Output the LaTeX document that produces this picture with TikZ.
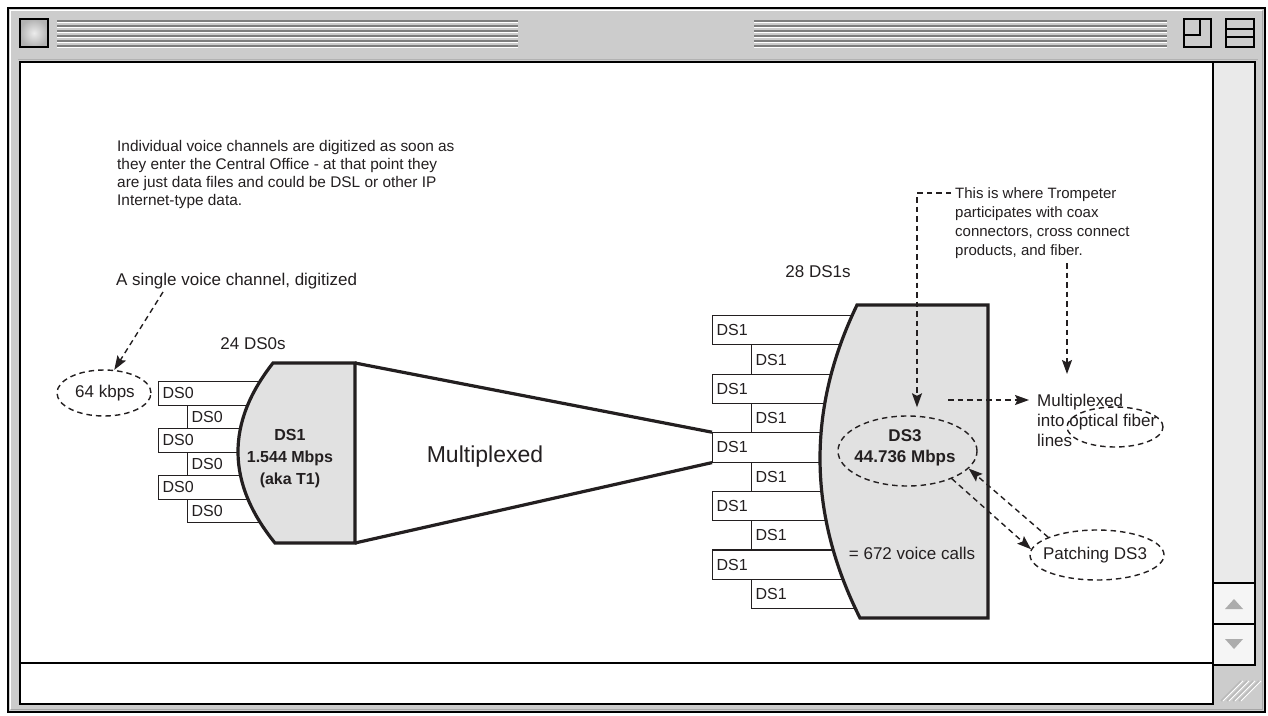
\documentclass[tikz,border=0pt]{standalone}
\usepackage{fontspec}
\setmainfont{Liberation Sans}
\usetikzlibrary{arrows.meta,shapes.geometric}
\definecolor{wframe}{RGB}{204,204,204}
\definecolor{shapefill}{RGB}{225,225,225}
\definecolor{stripe}{RGB}{125,125,125}
\definecolor{track}{RGB}{234,234,234}
\definecolor{ink}{RGB}{35,31,32}
\begin{document}
\begin{tikzpicture}[x=1pt,y=-1pt,
  ann/.style={font=\fontsize{15.4}{18}\selectfont, inner sep=0pt, align=left, text=ink},
  lbl/.style={font=\fontsize{17}{20}\selectfont, inner sep=0pt, text=ink},
  dsb/.style={draw=ink, line width=1.1pt, fill=white, inner xsep=4pt, inner ysep=0pt, align=left, font=\fontsize{16}{16}\selectfont, text=ink},
  bigshape/.style={draw=ink, line width=3.2pt, fill=shapefill},
  dline/.style={draw=ink, dash pattern=on 5.5pt off 4pt, line width=1.4pt},
  arr/.style={-{Stealth[length=14pt,width=10pt,inset=2.5pt,fill=ink]}},
  dell/.style={ellipse, dline, inner sep=0pt},
  chrome/.style={draw=black, line width=1.5pt},
]
\useasboundingbox (0,0) rectangle (1268,715);
\fill[white] (0,0) rectangle (1268,715);
% ---------------- window frame ----------------
\draw[line width=2pt, fill=wframe] (8,8) rectangle (1265,712);
\draw[white, line width=1.5pt] (10.5,709) -- (10.5,10.5) -- (1262,10.5);
\draw[gray!70, line width=1.5pt] (1262.5,11) -- (1262.5,709.5) -- (11,709.5);
\foreach \y in {21,26,31,36,41,46} {
  \draw[stripe, line width=1.4pt] (57,\y) -- (518,\y);
  \draw[white, line width=1pt] (57,\y+1.8) -- (518,\y+1.8);
  \draw[stripe, line width=1.4pt] (754,\y) -- (1167,\y);
  \draw[white, line width=1pt] (754,\y+1.8) -- (1167,\y+1.8);
}
\shade[inner color=gray!15, outer color=gray!60] (20,19) rectangle (48,47);
\draw[line width=2pt] (20,19) rectangle (48,47);
\draw[line width=2pt, fill=wframe] (1184,19) rectangle (1211,47);
\draw[line width=2pt] (1200,19) -- (1200,35) -- (1184,35);
\draw[line width=2pt, fill=wframe] (1226,19) rectangle (1254,47);
\draw[line width=2pt] (1226,29) -- (1254,29);
\draw[line width=2pt] (1226,37) -- (1254,37);
\draw[gray!60, line width=1pt] (18,59.5) -- (1258,59.5);
\draw[chrome, fill=white] (20,62) rectangle (1213,663);
\draw[chrome, fill=white] (20,663) rectangle (1213,704);
\draw[chrome, fill=track] (1213,62) rectangle (1255,665);
\draw[chrome, fill=gray!8] (1213,583) rectangle (1255,624);
\draw[chrome, fill=gray!8] (1213,624) rectangle (1255,665);
\fill[gray!65] (1225,609) -- (1243,609) -- (1234,599) -- cycle;
\fill[gray!65] (1225,639) -- (1243,639) -- (1234,649) -- cycle;
\foreach \i in {0,1,2,3} {
  \draw[gray!55, line width=1.5pt] (1221+\i*6,701) -- ++(20,-20);
  \draw[white, line width=1pt] (1223+\i*6,701) -- ++(20,-20);
}
% ---------------- DS0 boxes ----------------
\foreach \i in {1,3,5}
  \node[dsb, text width=134pt, minimum height=23.5pt, anchor=north west] (s\i) at (158,{381+(\i-1)*23.5}) {DS0};
\foreach \i in {2,4,6}
  \node[dsb, text width=105pt, minimum height=23.5pt, anchor=north west] (s\i) at (187,{381+(\i-1)*23.5}) {DS0};
% ---------------- DS1 boxes ----------------
\foreach \i in {1,3,5,7,9}
  \node[dsb, text width=180pt, minimum height=29.3pt, anchor=north west] (b\i) at (712,{315+(\i-1)*29.3}) {DS1};
\foreach \i in {2,4,6,8,10}
  \node[dsb, text width=141pt, minimum height=29.3pt, anchor=north west] (b\i) at (751,{315+(\i-1)*29.3}) {DS1};
% ---------------- multiplexer shapes ----------------
\draw[bigshape] (273,363) -- (355,363) -- (355,543) -- (275,543)
  .. controls (226.3,483) and (225.7,423) .. (273,363) -- cycle;
\draw[bigshape] (857,305) -- (988,305) -- (988,618) -- (860,618)
  .. controls (807.7,513.7) and (806.7,409.3) .. (857,305) -- cycle;
\coordinate (ds1ne) at (355,363);
\coordinate (ds1se) at (355,543);
\draw[draw=ink, line width=3.2pt] (ds1ne) -- (b5.north west);
\draw[draw=ink, line width=3.2pt] (ds1se) -- (b5.south west);
% ---------------- texts ----------------
\node[font=\bfseries\fontsize{16}{22}\selectfont, align=center, text=ink, inner sep=0pt] (ds1t) at (290,459) {DS1\\1.544 Mbps\\(aka T1)};
\node[lbl, font=\fontsize{23}{23}\selectfont] (mux) at (485,457) {Multiplexed};
\node[font=\bfseries\fontsize{17}{21}\selectfont, align=center, text=ink, inner sep=0pt] (ds3t) at (905,448) {DS3\\44.736 Mbps};
\node[lbl] (calls) at (912,553) {= 672 voice calls};
\node[lbl, anchor=north] (d0s) at (253,337) {24 DS0s};
\node[lbl, anchor=north] (d1s) at (818,265) {28 DS1s};
\node[lbl, anchor=north west] (sv) at (116,273) {A single voice channel, digitized};
\node[ann, anchor=north west] (ind) at (117,140) {Individual voice channels are digitized as soon as\\they enter the Central Office - at that point they\\are just data files and could be DSL or other IP\\Internet-type data.};
\node[ann, font=\fontsize{15}{19}\selectfont, anchor=north west] (tr) at (955,187) {This is where Trompeter\\participates with coax\\connectors, cross connect\\products, and fiber.};
\node[lbl, align=left, anchor=north west] (mf) at (1037,394) {Multiplexed\\into optical fiber\\lines};
\node[lbl] (kb) at (105,393) {64 kbps};
\node[lbl] (pt) at (1095,555) {Patching DS3};
% ---------------- dashed ellipses ----------------
\node[dell, minimum width=94pt, minimum height=46pt] (e64) at (104,393) {};
\node[dell, minimum width=139pt, minimum height=70pt] (ds3e) at (907.5,451) {};
\node[dell, minimum width=96pt, minimum height=40pt] (fe) at (1115,427) {};
\node[dell, minimum width=134pt, minimum height=50pt] (pe) at (1097,555) {};
% ---------------- dashed connectors ----------------
\coordinate (svend) at (163,292);
\draw[dline, arr] (svend) -- (e64.66);
\coordinate (t0) at (951,193);
\coordinate (tc) at (917,193);
\draw[dline, arr] (t0) -- (tc) -- ([shift={(9.5,-8)}]ds3e.north);
\coordinate (t1) at (1067,263);
\coordinate (t2) at (1067,374);
\draw[dline, arr] (t1) -- (t2);
\coordinate (h0) at (948,400);
\coordinate (h1) at (1029,400);
\draw[dline, arr] (h0) -- (h1);
\draw[dline, arr] (pe.160) -- (ds3e.-16);
\draw[dline, arr] (ds3e.-32) -- (pe.175);
\end{tikzpicture}
\end{document}
